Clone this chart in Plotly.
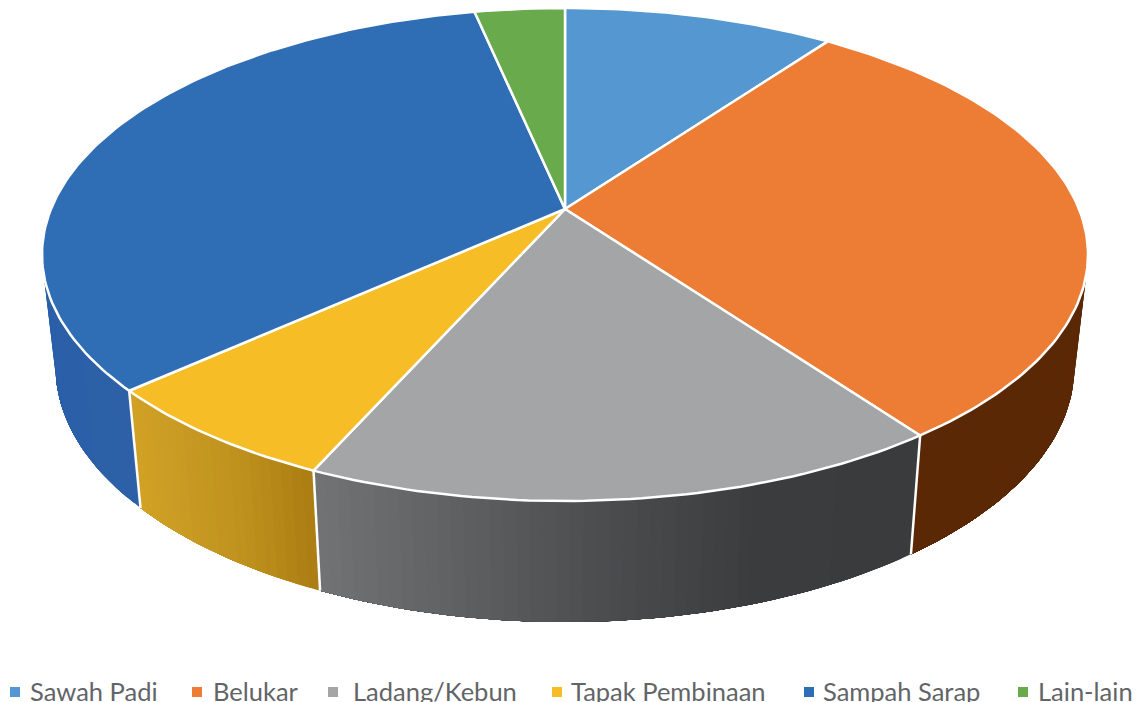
import numpy as np
import plotly.graph_objects as go

categories = ["Sawah Padi", "Belukar", "Ladang/Kebun", "Tapak Pembinaan", "Sampah Sarap", "Lain-lain"]
values = [3, 9, 5, 2, 10, 1]
top_colors = ["#5597d0", "#ed7d35", "#a4a5a6", "#f7bd27", "#2f6eb5", "#69aa4d"]
# wall shading per slice: list of (page x, colour)
wall_stops = [
    [(0, "#3f74ad"), (1141, "#3f74ad")],
    [(0, "#5b2806"), (1141, "#5b2806")],
    [(313, "#727374"), (450, "#5f6163"), (600, "#4b4d4f"), (760, "#3b3c3e"), (920, "#3a3b3d")],
    [(128, "#d2a226"), (230, "#c0931f"), (313, "#ab7d12")],
    [(40, "#2a5fa9"), (130, "#2d60a6")],
    [(0, "#4c7d38"), (1141, "#4c7d38")],
]
legend_marker_x = [15, 197, 333, 557, 809, 1023]
legend_text_x = [30, 213, 353, 571, 823, 1038]

# Projection of the pie's disc on the page
CX, CY, RX, RY, PERSP = 565.0, 209.0, 514.0, 238.1, 0.1846
WALL_SX, WALL_SY, WALL_DY = 0.974, 1.034, 104.0


def top(theta):
    w = 1 + PERSP * np.cos(theta)
    return CX + RX * np.sin(theta) / w, CY - RY * np.cos(theta) / w


def bottom(theta):
    x, y = top(theta)
    return CX + WALL_SX * (x - CX), WALL_SY * y + WALL_DY


def hex_rgb(c):
    return np.array([int(c[i:i + 2], 16) for i in (1, 3, 5)], float)


def shade(stops, x):
    xs = [s[0] for s in stops]
    cs = np.array([hex_rgb(s[1]) for s in stops])
    r = [np.interp(x, xs, cs[:, i]) for i in range(3)]
    return "rgb(%d,%d,%d)" % tuple(int(round(v)) for v in r)


fractions = np.cumsum([0] + values) / sum(values)
angles = fractions * 2 * np.pi
VIS_START = np.arccos(-PERSP)
VIS_END = 2 * np.pi - VIS_START

fig = go.Figure()


def poly(xs, ys, fill, line, width, name=None):
    fig.add_trace(go.Scatter(x=xs, y=ys, mode="lines", fill="toself", fillcolor=fill,
                             line=dict(color=line, width=width), hoverinfo="skip" if name is None else "name",
                             name=name or "", showlegend=False))


# Walls: each strip runs on to the end of its slice and the next strip paints over it, so no seams show
for a0, a1, stops in zip(angles[:-1], angles[1:], wall_stops):
    lo, hi = max(a0, VIS_START), min(a1, VIS_END)
    if hi <= lo:
        continue
    n = max(2, int((hi - lo) / np.radians(1.2)))
    edges = np.linspace(lo, hi, n + 1)
    for t0, t1 in zip(edges[:-1], edges[1:]):
        ts = np.linspace(t0, hi, max(3, int((hi - t0) / np.radians(1.2)) + 2))
        xt, yt = top(ts)
        xb, yb = bottom(ts[::-1])
        col = shade(stops, float(np.mean(top(np.array([t0, t1]))[0])))
        poly(list(xt) + list(xb) + [xt[0]], list(yt) + list(yb) + [yt[0]], col, col, 0)

# White separators on the wall
for a in angles[1:-1]:
    if VIS_START < a < VIS_END:
        x0, y0 = top(a)
        x1, y1 = bottom(a)
        fig.add_trace(go.Scatter(x=[x0, x1], y=[y0, y1], mode="lines", hoverinfo="skip", showlegend=False,
                                 line=dict(color="white", width=2.5)))

# Top faces of the slices
for name, a0, a1, col in zip(categories, angles[:-1], angles[1:], top_colors):
    ts = np.linspace(a0, a1, max(8, int((a1 - a0) / np.radians(1))))
    xt, yt = top(ts)
    poly([CX] + list(xt) + [CX], [CY] + list(yt) + [CY], col, "white", 2.5, name)

# Legend
fig.add_trace(go.Scatter(x=legend_marker_x, y=[692] * len(categories), mode="markers", hoverinfo="skip",
                         showlegend=False, marker=dict(symbol="square", size=10, color=top_colors,
                                                       line=dict(width=0))))
annotations = [dict(x=x, y=691, xref="x", yref="y", text=c, showarrow=False, xanchor="left", yanchor="middle",
                    xshift=-2, font=dict(family="Lato", size=25.5, color="#626567"))
               for x, c in zip(legend_text_x, categories)]

fig.update_layout(width=1141, height=702, margin=dict(l=0, r=0, t=0, b=0), paper_bgcolor="white",
                  plot_bgcolor="white", showlegend=False, annotations=annotations,
                  xaxis=dict(range=[0, 1141], visible=False, fixedrange=True),
                  yaxis=dict(range=[702, 0], visible=False, fixedrange=True))
fig.write_html("out.html", config={"displayModeBar": False},
               post_script="document.body.style.margin='0';document.body.style.overflow='hidden';")
